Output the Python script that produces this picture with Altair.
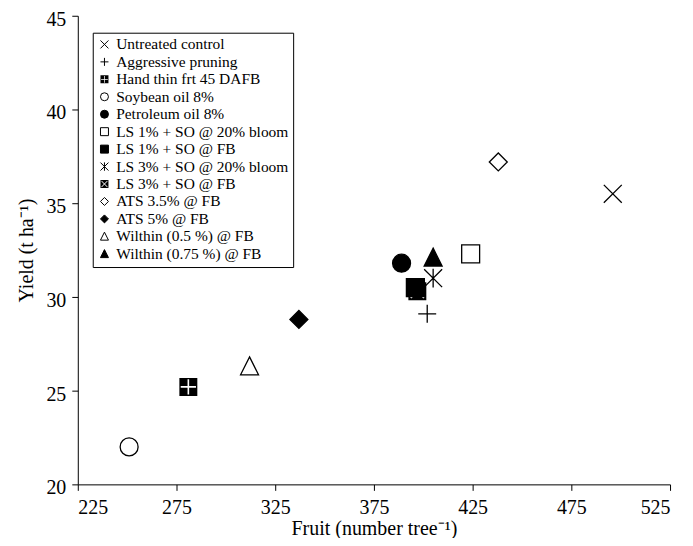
import altair as alt
import pandas as pd

treatments = [
    "Untreated control",
    "Aggressive pruning",
    "Hand thin frt 45 DAFB",
    "Soybean oil 8%",
    "Petroleum oil 8%",
    "LS 1% + SO @ 20% bloom",
    "LS 1% + SO @ FB",
    "LS 3% + SO @ 20% bloom",
    "LS 3% + SO @ FB",
    "ATS 3.5% @ FB",
    "ATS 5% @ FB",
    "Wilthin (0.5 %) @ FB",
    "Wilthin (0.75 %) @ FB",
]
fruit = [496, 402, 281, 251, 389, 424, 396, 405, 397, 438, 337, 312, 405]
yield_t = [35.5, 29.1, 25.2, 22.0, 31.8, 32.3, 30.5, 31.0, 30.3, 37.2, 28.8, 26.3, 32.1]
draw_order = [1, 2, 3, 4, 5, 6, 8, 9, 7, 10, 11, 12, 13]

x_ticks = [225, 275, 325, 375, 425, 475, 525]
y_ticks = [20, 25, 30, 35, 40, 45]

# marker shapes
X_PATH = "M-1,-1L1,1M-1,1L1,-1"
PLUS_PATH = "M-1,0L1,0M0,-1L0,1"
STAR_PATH = "M-1,-1L1,1M-1,1L1,-1M0,-1.05L0,1.05"
TRI_PATH = "M0,-1.05L1,0.95L-1,0.95Z"


def box_plus(w=0.09, a=0.85):
    pts = [(-w, -w), (-a, -w), (-a, w), (-w, w), (-w, a), (w, a), (w, w),
           (a, w), (a, -w), (w, -w), (w, -a), (-w, -a)]
    return "M-1,-1L1,-1L1,1L-1,1Z" + "M" + "L".join(f"{x:.3f},{y:.3f}" for x, y in pts) + "Z"


def box_x(w=0.09, a=0.8):
    d = w * 1.4142
    pts = [(-a, -a + d), (-a + d, -a), (0, -d), (a - d, -a), (a, -a + d), (d, 0),
           (a, a - d), (a - d, a), (0, d), (-a + d, a), (-a, a - d), (-d, 0)]
    pts = pts[::-1]
    return "M-1,-1L1,-1L1,1L-1,1Z" + "M" + "L".join(f"{x:.3f},{y:.3f}" for x, y in pts) + "Z"


shapes = [X_PATH, PLUS_PATH, box_plus(), "circle", "circle", "square", "square",
          STAR_PATH, box_x(), "diamond", "diamond", TRI_PATH, TRI_PATH]
fills = ["transparent", "transparent", "black", "transparent", "black", "transparent", "black",
         "transparent", "black", "transparent", "black", "transparent", "black"]
strokes = ["black", "black", "transparent", "black", "black", "black", "black",
           "black", "transparent", "black", "black", "black", "black"]

df = pd.DataFrame({"Treatment": treatments, "Fruit": fruit, "Yield": yield_t, "z": draw_order})

FONT = "Liberation Serif"

legend = alt.Legend(
    orient="none", legendX=15, legendY=17, title=None,
    strokeColor="black", fillColor="white", padding=4,
    labelFont=FONT, labelFontSize=15.5, labelColor="black", labelOffset=4,
    symbolSize=64, symbolStrokeWidth=1, rowPadding=0.5, labelLimit=400,
    cornerRadius=0,
)

chart = alt.Chart(df).mark_point(filled=True, size=324, strokeWidth=1.3, opacity=1).encode(
    x=alt.X("Fruit:Q", scale=alt.Scale(domain=[225, 525], nice=False, zero=False),
            axis=alt.Axis(values=x_ticks, title="Fruit (number tree⁻¹)", format="d")),
    y=alt.Y("Yield:Q", scale=alt.Scale(domain=[20, 45], nice=False, zero=False),
            axis=alt.Axis(values=y_ticks, title="Yield (t ha⁻¹)", format="d", labelOffset=3.5)),
    shape=alt.Shape("Treatment:N", scale=alt.Scale(domain=treatments, range=shapes), legend=legend),
    fill=alt.Fill("Treatment:N", scale=alt.Scale(domain=treatments, range=fills), legend=legend),
    stroke=alt.Stroke("Treatment:N", scale=alt.Scale(domain=treatments, range=strokes), legend=legend),
    order=alt.Order("z:Q"),
).properties(
    width=594, height=470,
    autosize=alt.AutoSizeParams(type="none"),
    padding={"left": 70, "top": 7, "right": 15, "bottom": 53},
).configure_view(stroke=None).configure_axis(
    grid=False, domainColor="black", domainWidth=1, tickColor="black", tickSize=6,
    labelFont=FONT, labelFontSize=20, labelColor="black",
    titleFont=FONT, titleFontSize=20, titleFontWeight="normal", titleColor="black",
).configure_axisX(labelPadding=7, titlePadding=1).configure_axisY(labelPadding=6, titlePadding=9)

chart.save("out.html", embed_options={"renderer": "svg", "actions": False})
